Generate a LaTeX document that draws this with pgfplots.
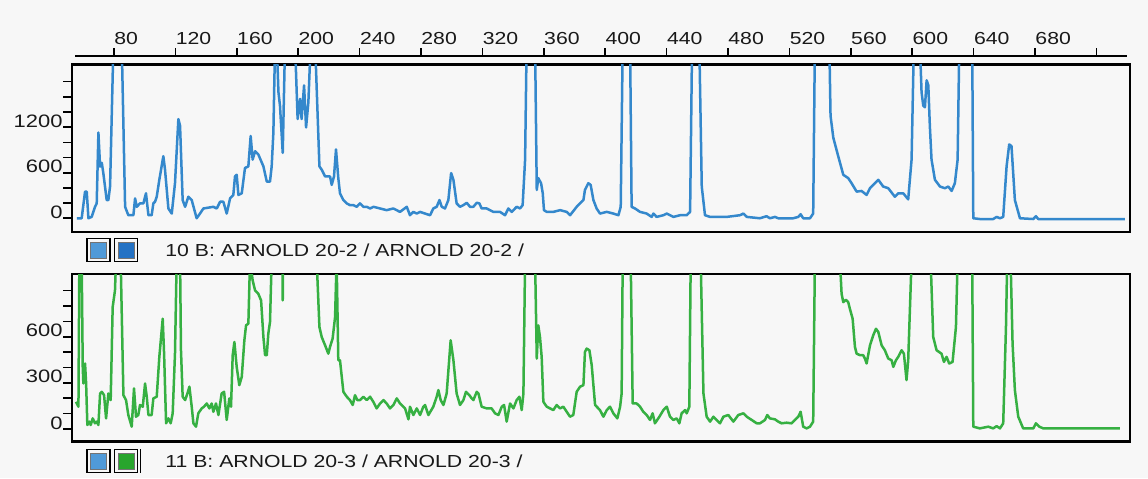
\documentclass[border=0pt]{standalone}
\usepackage{pgfplots}
\pgfplotsset{compat=1.18}
\usepackage{fontspec}
\setmainfont{Liberation Sans}[FakeStretch=1.22]
\definecolor{bgc}{RGB}{247,247,247}
\definecolor{txt}{RGB}{25,25,25}
\definecolor{lineblue}{RGB}{52,136,204}
\definecolor{linegreen}{RGB}{54,176,66}
\definecolor{sqblue}{RGB}{80,154,216}
\definecolor{sqblue2}{RGB}{36,114,196}
\definecolor{sqgreen}{RGB}{40,165,45}
\newcommand{\lblfont}{\fontsize{8.7}{10}\selectfont\color{txt}}
\newcommand{\ylblfont}{\fontsize{9}{10}\selectfont\color{txt}}
\pgfplotsset{
  panel/.style={scale only axis, width=529pt, xmin=52.6, xmax=741.9,
    xtick=\empty, ytick pos=left, tick align=outside, major tick length=4.5pt,
    axis line style={line width=1.3pt, black},
    tick style={line width=0.8pt, black},
    yticklabel style={anchor=base east, inner sep=0pt, font=\ylblfont},
    axis background/.style={fill=bgc},
    every axis plot/.append style={line width=1.25pt, line join=round}}
}
\begin{document}
\begin{tikzpicture}[x=1pt,y=1pt]
\useasboundingbox (0,0) rectangle (574,239);
\fill[bgc] (0,0) rectangle (574,239);

% top x scale
\begin{axis}[scale only axis, at={(37.5pt,211pt)}, anchor=north west,
  width=526pt, height=5pt, xmin=54.6, xmax=739.9, ymin=0, ymax=1,
  axis x line*=top, axis y line=none,
  axis line style={line width=1.2pt, black, -},
  xtick={80,120,...,720},
  xticklabels={80,120,160,200,240,280,320,360,400,440,480,520,560,600,640,680,{}},
  tick align=outside, major tick length=3.85pt,
  tick style={line width=0.8pt, black},
  xticklabel style={anchor=base west, inner sep=0pt, yshift=2pt, font=\lblfont}]
\end{axis}

% top panel
\begin{axis}[panel, at={(36pt,123pt)}, anchor=south west, height=83.75pt,
  ymin=-181, ymax=2026, ytick={0,200,...,1800},
  yticklabels={0,{},{},600,{},{},1200,{},{},{}}]
\addplot[lineblue] coordinates {
(55.7,0) (58.9,0) (61.1,350) (62.2,350) (63.3,0) (65.4,18) (67.6,150) (68.7,196) (69.8,1130) (70.9,680) (72.0,730) (73.0,596) (75.2,240) (76.3,240) (77.4,418) (79.6,2300) (85.0,2300) (87.2,151) (89.3,40) (92.6,40) (93.7,262) (94.8,151) (96.9,196) (99.1,196) (100.8,329) (102.4,40) (104.5,40) (105.6,196) (106.7,218) (107.8,284) (109.5,507) (112.1,818) (113.2,640) (115.4,129) (117.6,62) (119.7,462) (121.9,1307) (123.0,1218) (124.7,240) (126.3,151) (128.4,284) (130.6,240) (133.8,0) (136.0,62) (138.2,129) (144.7,151) (146.9,129) (149.1,218) (151.2,218) (153.4,62) (155.6,262) (157.7,307) (158.8,551) (159.9,573) (161.0,307) (163.2,329) (165.3,662) (167.5,684) (169.0,1084) (170.3,773) (171.9,884) (174.0,840) (177.3,684) (179.5,484) (181.6,484) (182.7,684) (183.8,1129) (184.9,2300) (186.0,2300) (187.1,1662) (188.1,1484) (189.9,862) (191.4,2300) (197.9,2300) (199.6,1307) (201.2,1573) (202.2,1307) (203.8,1751) (205.1,1196) (206.6,1529) (208.1,2300) (211.0,2300) (213.8,684) (215.3,640) (217.5,551) (220.7,551) (221.8,440) (223.3,551) (224.6,907) (226.1,529) (227.2,329) (229.4,240) (231.6,196) (233.7,173) (235.9,173) (238.1,151) (240.2,196) (242.4,151) (244.6,151) (246.8,129) (249.0,151)
(253.3,129) (257.6,107) (262.0,129) (266.3,84) (270.7,151) (272.8,40) (275.0,84) (277.2,62) (279.4,84) (282.6,62) (285.9,40) (288.0,129) (290.2,151) (292.0,240) (293.5,151) (295.6,129) (297.8,240) (299.6,596) (301.1,507) (303.2,196) (305.4,151) (307.6,173) (309.8,204) (311.9,151) (314.1,151) (316.3,204) (318.0,196) (319.5,129) (322.8,129) (327.1,84) (331.5,84) (334.7,40) (336.9,129) (339.1,84) (342.3,151) (344.5,129) (346.2,173) (347.8,773) (348.8,2300) (354.3,2300) (355.4,373) (356.4,529) (358.2,462) (359.3,329) (360.1,107) (361.9,84) (366.2,84) (370.6,107) (374.9,84) (377.1,40) (381.4,151) (383.6,196) (385.8,240) (386.8,373) (389.0,462) (390.5,440) (392.3,240) (394.4,129) (396.6,62) (401.0,84) (405.3,62) (408.6,40) (410.1,151) (411.4,2300) (416.2,2300) (417.2,151) (419.4,129) (422.7,84) (427.0,62) (430.3,18) (431.4,62) (433.5,18) (437.9,40) (440.1,62) (444.4,18) (448.7,40) (453.1,40) (455.3,84) (456.6,2300) (461.3,2300) (462.9,418) (465.0,40) (468.3,18) (472.6,18) (479.1,18) (487.8,40) (490.0,62) (492.2,18)
(500.8,0) (505.1,27) (507.3,0) (510.6,18) (512.7,0) (522.5,0) (525.8,18) (527.3,53) (529.0,0) (533.4,0) (535.5,62) (536.6,2300) (546.0,2300) (546.8,1351) (548.6,1062) (551.8,818) (555.1,573) (558.3,529) (560.5,462) (563.8,351) (567.0,360) (570.3,307) (572.5,396) (577.9,507) (581.1,418) (584.4,396) (588.7,284) (590.9,329) (594.2,329) (597.4,249) (599.6,773) (601.1,2300) (605.0,2300) (606.1,1662) (607.2,1484) (608.3,1462) (609.4,1818) (610.5,1751) (611.5,1218) (612.6,773) (614.8,507) (618.1,418) (621.3,396) (623.5,418) (625.7,360) (627.8,462) (629.6,773) (630.7,2300) (639.1,2300) (639.8,0) (644.1,-10) (652.8,-10) (655.0,18) (657.2,0) (659.3,18) (661.5,684) (663.2,973) (664.7,951) (666.9,240) (670.2,0) (678.9,-10) (680.6,27) (682.1,-10) (696.2,-10) (718.0,-10) (738.6,-10)
};
\end{axis}

% bottom panel
\begin{axis}[panel, at={(36pt,18.15pt)}, anchor=south west, height=83.85pt,
  ymin=-82.6, ymax=1008, ytick={0,100,...,900},
  yticklabels={0,{},{},300,{},{},600,{},{},{}}]
\addplot[linegreen] coordinates {
(55.2,177) (56.8,145) (57.4,1100) (58.9,1100) (59.6,404) (60.0,296) (61.1,426) (61.8,296) (62.6,26) (63.9,48) (64.8,26) (66.1,69) (67.6,37) (68.7,48) (69.8,26) (70.9,231) (72.0,242) (73.5,220) (74.8,69) (76.3,231) (77.8,188) (79.1,793) (80.6,901) (81.3,1100) (84.3,1100) (86.1,220) (87.8,188) (89.3,91) (91.5,15) (93.0,264) (94.3,80) (95.8,91) (96.9,156) (98.7,145) (100.2,296) (101.3,210) (102.4,91) (104.5,91) (105.6,199) (107.8,210) (109.5,469) (111.7,717) (112.6,490) (113.9,37) (115.4,69) (116.9,37) (118.2,102) (119.7,490) (120.8,1100) (123.0,1100) (123.6,512) (124.7,210) (126.3,188) (127.8,231) (129.1,275) (130.6,145) (131.7,37) (133.4,15) (134.9,102) (137.1,134) (138.6,145) (140.4,166) (142.1,134) (143.6,166) (144.7,112) (146.4,166) (148.0,91) (150.1,231) (151.7,242) (153.4,59) (155.1,199) (156.2,145) (157.3,480) (158.4,566) (159.9,404) (161.6,285) (163.2,339) (164.9,577) (166.0,674) (167.5,685) (168.6,1100) (170.3,966) (171.9,901) (174.0,879) (175.8,836) (177.3,598) (178.4,480) (179.5,480) (180.5,620) (181.6,696) (182.7,1100) (189.7,1100) (189.9,836) (190.1,1100) (212.0,1100) (213.8,663) (215.3,598) (217.5,544) (219.6,490) (220.7,534) (222.4,588) (224.0,728) (225.0,1100) (226.1,447) (227.2,447) (229.4,242) (231.6,210) (233.7,188) (235.5,156) (237.0,220) (238.5,188) (240.2,188) (242.4,210) (244.6,188) (246.8,210) (248.9,177) (251.1,134)
(253.3,166) (255.5,188) (257.6,166) (259.8,134) (262.0,156) (264.2,199) (266.3,166) (269.6,134) (271.8,63) (272.8,145) (275.0,91) (277.2,134) (279.4,91) (281.5,145) (282.6,156) (284.8,91) (288.0,145) (290.2,210) (291.3,253) (292.8,188) (294.6,156) (296.7,231) (299.3,577) (301.1,447) (303.2,231) (305.4,156) (307.6,188) (309.3,242) (311.5,220) (313.0,199) (314.1,188) (316.3,242) (317.4,231) (319.5,145) (322.8,134) (326.0,134) (328.2,102) (330.4,91) (332.6,145) (334.1,156) (335.8,48) (338.0,166) (340.2,134) (342.3,188) (344.1,210) (345.6,123) (346.7,231) (347.8,1100) (354.3,1100) (355.4,458) (356.4,674) (357.5,598) (358.6,469) (359.7,177) (361.9,145) (366.2,123) (368.4,156) (370.6,134) (372.7,145) (374.9,112) (377.1,80) (379.2,91) (381.4,242) (383.6,275) (385.8,285) (386.8,501) (387.9,523) (389.7,512) (391.2,415) (393.4,156) (396.6,123) (398.8,80) (401.0,123) (403.1,145) (405.3,102) (407.9,69) (409.7,145) (410.7,231) (411.4,1100) (416.6,1100) (417.9,166) (420.5,166) (422.7,145) (424.8,112) (427.0,91) (429.2,59) (430.9,102) (432.4,37) (435.3,80) (437.9,123) (440.1,145) (442.2,80) (444.4,59) (446.6,69) (448.3,37) (449.8,102) (452.0,123) (453.1,102) (454.8,145) (455.7,1100) (462.2,1100) (464.0,231) (466.1,80) (468.3,48) (470.5,80) (472.6,59) (474.8,37) (477.0,80) (480.2,91) (483.5,48) (486.7,91) (490.0,102) (492.2,80) (495.4,59) (498.7,37)
(500.8,37) (504.1,59) (505.6,91) (507.3,69) (510.6,63) (512.7,48) (514.9,37) (518.2,41) (521.4,37) (523.6,59) (525.8,80) (527.3,112) (529.0,15) (531.2,4) (533.4,15) (535.5,48) (536.6,1100) (552.9,1100) (554.0,879) (555.1,825) (556.8,840) (558.3,825) (559.4,782) (561.2,717) (562.7,534) (563.8,490) (566.0,480) (568.1,480) (569.2,458) (570.3,426) (572.5,544) (574.6,609) (576.4,652) (577.9,631) (580.1,544) (582.2,512) (584.4,458) (586.6,447) (587.7,404) (589.4,447) (590.9,469) (593.1,512) (594.6,490) (596.3,318) (597.4,447) (599.6,1100) (612.0,1100) (613.7,598) (615.9,512) (619.1,490) (620.7,436) (622.4,469) (624.1,426) (626.3,436) (628.5,663) (629.6,1100) (639.1,1100) (639.8,15) (644.1,4) (649.6,15) (652.8,4) (655.0,19) (657.2,4) (659.3,37) (661.1,663) (661.9,1100) (664.1,1100) (665.4,555) (666.9,253) (669.1,80) (672.3,4) (678.9,4) (680.6,37) (682.8,15) (685.4,4) (735.3,4)
};
\end{axis}

% legend rows
\draw[line width=0.8pt, black] (43.35,108.2) rectangle (55,119.8);
\filldraw[fill=sqblue, draw=black!55, line width=0.3pt] (45.2,110.1) rectangle (53.15,117.9);
\draw[line width=0.8pt, black] (57.15,108.2) rectangle (68.8,119.8);
\filldraw[fill=sqblue2, draw=black!55, line width=0.3pt] (59.0,110.1) rectangle (66.95,117.9);
\node[anchor=base west, inner sep=0pt, font=\lblfont] at (82.5,110.75) {10 B: ARNOLD 20-2 / ARNOLD 20-2 /};

\draw[line width=0.8pt, black] (43.35,2.7) rectangle (55,14.3);
\filldraw[fill=sqblue, draw=black!55, line width=0.3pt] (45.2,4.6) rectangle (53.15,12.4);
\draw[line width=0.8pt, black] (57.15,2.7) rectangle (68.8,14.3);
\filldraw[fill=sqgreen, draw=black!55, line width=0.3pt] (59.0,4.6) rectangle (66.95,12.4);
\draw[line width=0.8pt, black] (70.3,2.7) -- (70.3,14.3);
\node[anchor=base west, inner sep=0pt, font=\lblfont] at (82.5,5.25) {11 B: ARNOLD 20-3 / ARNOLD 20-3 /};
\end{tikzpicture}
\end{document}
